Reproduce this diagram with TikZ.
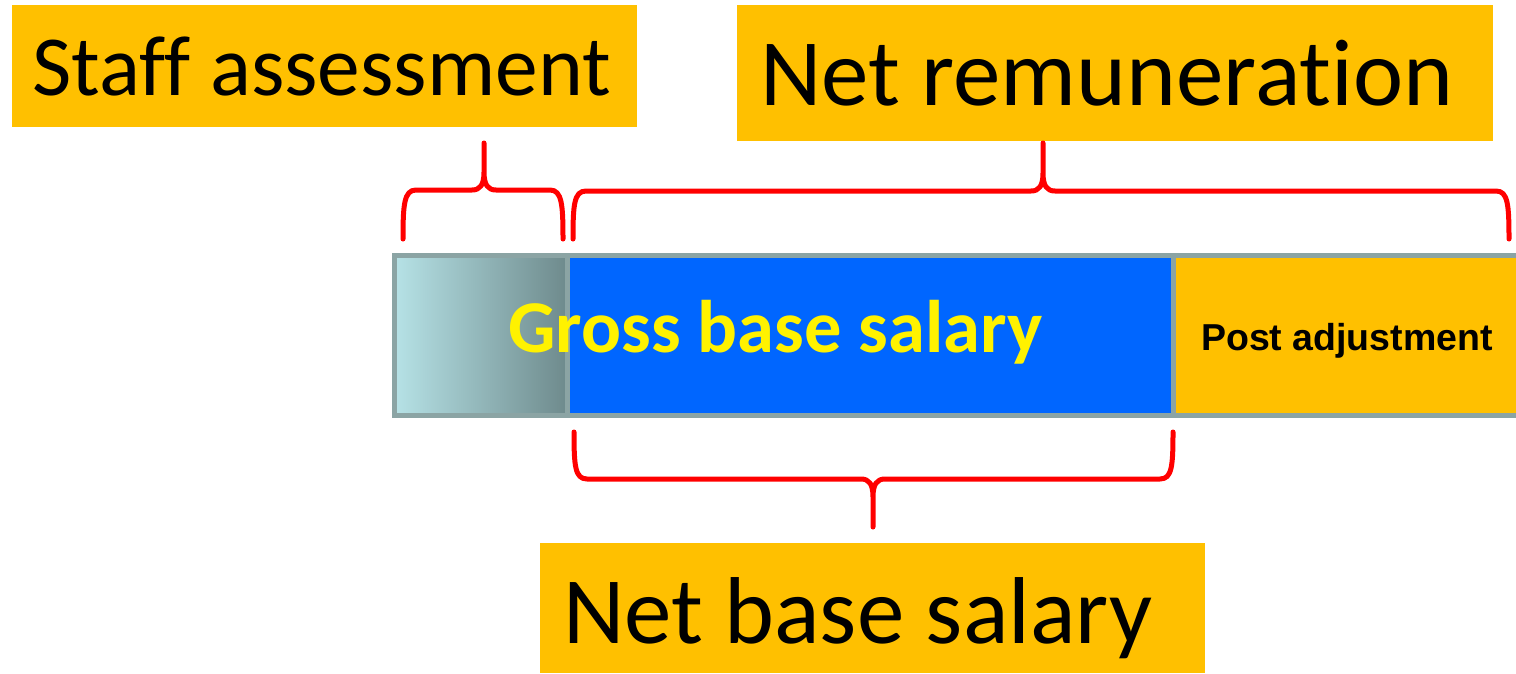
\documentclass[tikz,border=0pt]{standalone}
\usepackage{fontspec}
\setmainfont{Carlito}[Ligatures={NoCommon}]
\newfontfamily\arialfont{Liberation Sans}
\usetikzlibrary{positioning}

\definecolor{payorange}{RGB}{255,192,0}
\definecolor{payblue}{RGB}{0,102,255}
\definecolor{payline}{RGB}{139,164,164}
\definecolor{staffleft}{RGB}{182,226,230}
\definecolor{staffright}{RGB}{110,138,140}

\begin{document}
\begin{tikzpicture}[x=1pt, y=-1pt,
    labelbox/.style = {fill=payorange, anchor=north west, inner sep=0pt},
    labeltext/.style = {anchor=base west, inner sep=0pt},
    seg/.style = {draw=payline, line width=5pt, minimum height=159.5pt, inner sep=0pt, outer sep=0pt},
    brace/.style = {draw=red, line width=5pt, line cap=round, line join=round}]
    \useasboundingbox (0,0) rectangle (1516,673);

    % salary bar
    \node[seg, left color=staffleft, right color=staffright, minimum width=173pt, anchor=west] (staff) at (394.5,335.25) {};
    \node[seg, fill=payblue, minimum width=606pt] (gross) [right=0pt of staff] {};
    \node[seg, fill=payorange, minimum width=360pt] (post) [right=0pt of gross] {};

    \node[anchor=base west, text=yellow, font=\fontsize{74.5}{80}\selectfont\bfseries] (grosstext) at (505,352) {Gross base salary};
    \node[anchor=base, font=\arialfont\fontsize{37.5}{40}\selectfont\bfseries] (posttext) at (1347,350) {Post adjustment};

    % labels
    \node[labelbox, minimum width=625pt, minimum height=122pt] (assessbox) at (12,5) {};
    \node[labeltext, font=\fontsize{85.5}{90}\selectfont] (assess) at ([shift={(20,90)}]assessbox.north west) {Staff assessment};
    \node[labelbox, minimum width=756pt, minimum height=136pt] (netrembox) at (737,5) {};
    \node[labeltext, font=\fontsize{95}{100}\selectfont] (netrem) at ([shift={(23,100)}]netrembox.north west) {Net remuneration};
    \node[labelbox, minimum width=665pt, minimum height=130pt] (netbasebox) at (540,543) {};
    \node[labeltext, font=\fontsize{95}{100}\selectfont] (netbase) at ([shift={(23,100)}]netbasebox.north west) {Net base salary};

    % braces
    \draw[brace] (403,239) .. controls (403,205) and (404,190) .. (416,190) -- (472,190)
        .. controls (480,190) and (484,185) .. (484,172) -- (484,143) -- (484,172)
        .. controls (484,185) and (488,190) .. (496,190) -- (550,190)
        .. controls (562,190) and (563,205) .. (563,239);
    \draw[brace] (573,239) .. controls (573,205) and (574,191) .. (586,191) -- (1031,191)
        .. controls (1039,191) and (1043,186) .. (1043,173) -- (1043,143) -- (1043,173)
        .. controls (1043,186) and (1047,191) .. (1055,191) -- (1496,191)
        .. controls (1508,191) and (1509,205) .. (1509,239);
    \draw[brace] (574,432) .. controls (574,466) and (575,479) .. (587,479) -- (861,479)
        .. controls (869,479) and (873,484) .. (873,497) -- (873,527) -- (873,497)
        .. controls (873,484) and (877,479) .. (885,479) -- (1160,479)
        .. controls (1172,479) and (1173,466) .. (1173,432);

    \end{tikzpicture}
\end{document}
